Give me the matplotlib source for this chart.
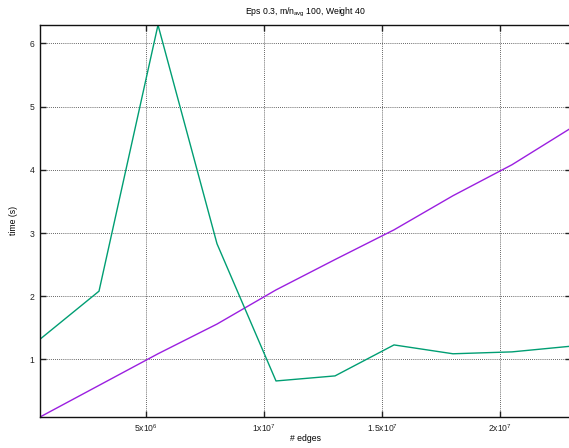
import matplotlib

matplotlib.use("Agg")
import matplotlib.pyplot as plt
from matplotlib.ticker import FixedLocator, FixedFormatter

plt.rcParams["font.family"] = ["Liberation Sans", "DejaVu Sans"]
plt.rcParams["mathtext.fontset"] = "custom"
plt.rcParams["mathtext.rm"] = "Liberation Sans"
plt.rcParams["mathtext.it"] = "Liberation Sans"
plt.rcParams["mathtext.default"] = "regular"

# data
edges = [0.5e6, 3.0e6, 5.5e6, 8.0e6, 10.5e6, 13.0e6, 15.5e6, 18.0e6, 20.5e6, 23.0e6]
time_a = [0.09, 0.59, 1.09, 1.56, 2.10, 2.58, 3.05, 3.59, 4.08, 4.66]
time_b = [1.32, 2.08, 6.29, 2.83, 0.66, 0.74, 1.23, 1.09, 1.12, 1.21]

xticks = [5e6, 1e7, 1.5e7, 2e7]
xtick_labels = ["5x10$^{6}$", "1x10$^{7}$", "1.5x10$^{7}$", "2x10$^{7}$"]
yticks = [1, 2, 3, 4, 5, 6]

fig = plt.figure(figsize=(5.69, 4.48), dpi=100)
ax = fig.add_axes([40 / 569, 1 - 417 / 448, 531 / 569, 392 / 448])

ax.plot(edges, time_a, color="#9b1fe0", lw=1.0)
ax.plot(edges, time_b, color="#009e73", lw=1.0)

ax.set_xlim(min(edges), max(edges))
ax.set_ylim(min(time_a + time_b), max(time_a + time_b))

ax.xaxis.set_major_locator(FixedLocator(xticks))
ax.xaxis.set_major_formatter(FixedFormatter(xtick_labels))
ax.set_yticks(yticks)
ax.set_yticklabels([str(v) for v in yticks])

ax.grid(True, color="#333333", ls=(0, (1, 1.5)), lw=0.6)
ax.tick_params(direction="in", length=4, width=1, labelsize=6.2, colors="#222222", top=True, right=True, pad=4)
for s in ax.spines.values():
    s.set_linewidth(1.0)
    s.set_color("#111111")

fig.text(305 / 569, 1 - 12 / 448, "Eps 0.3, m/n$_{avg}$ 100, Weight 40", ha="center", va="center", fontsize=6.2)
fig.text(305 / 569, 1 - 438 / 448, "# edges", ha="center", va="center", fontsize=6.2)
fig.text(14 / 569, 1 - 220 / 448, "time (s)", ha="center", va="center", rotation=90, fontsize=6.2)

fig.savefig("out.png", dpi=100)
